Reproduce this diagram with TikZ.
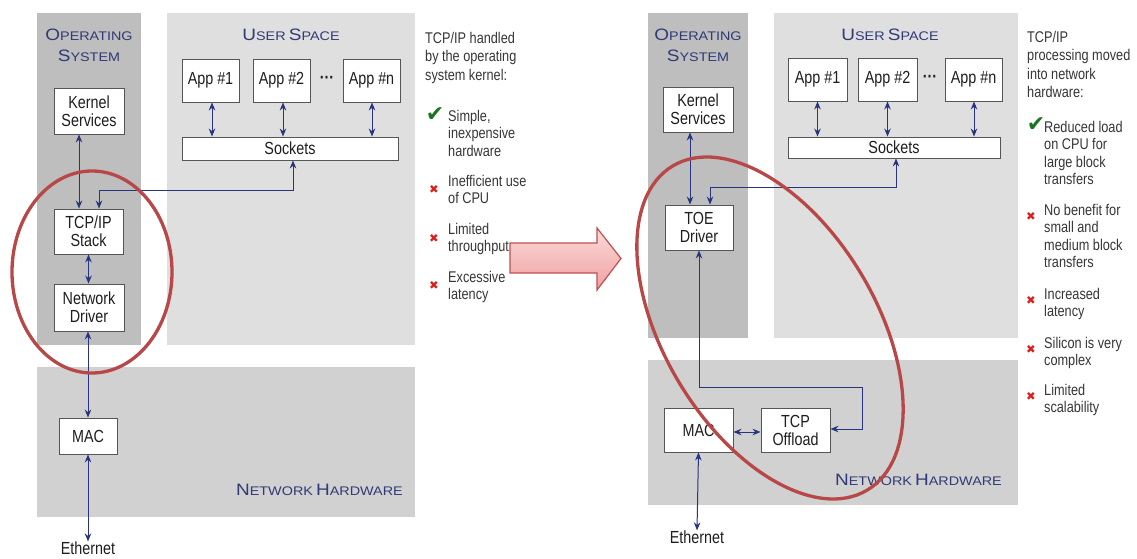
\documentclass[tikz,border=0pt]{standalone}
\usepackage{fontspec}
\setmainfont{Liberation Sans}
\newfontfamily\narrowfont[FakeStretch=0.82]{Liberation Sans}
\newfontfamily\widefont[FakeStretch=1.15]{Liberation Sans}
\newfontfamily\symbolfont{DejaVu Sans}
\usetikzlibrary{arrows.meta}

\definecolor{osgray}{RGB}{190,190,190}
\definecolor{usergray}{RGB}{223,223,223}
\definecolor{hwgray}{RGB}{209,209,209}
\definecolor{linknavy}{RGB}{40,52,125}
\definecolor{headblue}{RGB}{48,58,118}
\definecolor{ringred}{RGB}{184,72,72}
\definecolor{okgreen}{RGB}{30,115,30}
\definecolor{badred}{RGB}{222,30,30}
\definecolor{boxline}{RGB}{85,85,85}
\definecolor{boxtext}{RGB}{30,30,30}
\definecolor{notetext}{RGB}{55,55,55}
\definecolor{arrowedge}{RGB}{190,80,80}
\definecolor{arrowtop}{RGB}{251,218,218}
\definecolor{arrowbottom}{RGB}{240,160,160}

% small-caps look for the region titles
\newcommand\capsword[2]{{\fontsize{16.5}{16.5}\selectfont #1}{\fontsize{12.5}{12.5}\selectfont #2}}
\newcommand\okmark{{\symbolfont\fontsize{22}{22}\selectfont\textcolor{okgreen}{✔}}}
\newcommand\nomark{{\symbolfont\fontsize{11.5}{11.5}\selectfont\textcolor{badred}{✖}}}

\tikzset{
  tipshape/.tip={Stealth[length=8pt,width=6.5pt]},
  box/.style={draw=boxline, line width=0.9pt, fill=white, inner sep=0pt,
    align=center, text=boxtext, font=\narrowfont\fontsize{17.5}{18}\selectfont},
  plaintext/.style={inner sep=0pt, text=boxtext, font=\narrowfont\fontsize{17.5}{18}\selectfont},
  heading/.style={inner sep=0pt, text=headblue, font=\widefont},
  note/.style={align=left, anchor=north west, inner sep=0pt, text=notetext,
    font=\narrowfont\fontsize{15.5}{17.5}\selectfont},
  noteh/.style={note, font=\narrowfont\fontsize{15.5}{18.5}\selectfont},
  tick/.style={inner sep=0pt},
  link/.style={draw=linknavy, line width=1pt, tipshape-tipshape},
  ring/.style={draw=ringred, line width=3.3pt},
}

\begin{document}
\begin{tikzpicture}[x=1pt,y=-1pt]
\useasboundingbox (0,0) rectangle (1137,559);
\fill[white] (0,0) rectangle (1137,559);

% ---------------- kernel-based stack ----------------
\fill[osgray]   (37,13)  rectangle (141,345);
\fill[usergray] (167,13) rectangle (415,345);
\fill[hwgray]   (37,367) rectangle (415,517);

\node[heading] (osL1) at (89,35) {\capsword{O}{PERATING}};
\node[heading] (osL2) at (89,56) {\capsword{S}{YSTEM}};
\node[heading] (usL)  at (291,35) {\capsword{U}{SER} \capsword{S}{PACE}};
\node[heading, anchor=east] (hwL) at (403,490) {\capsword{N}{ETWORK} \capsword{H}{ARDWARE}};

\node[box, minimum width=70pt, minimum height=46pt] (kernL) at (89,111) {Kernel\\Services};
\node[box, minimum width=57pt, minimum height=43pt] (app1L) at (210.5,80.5) {App \#1};
\node[box, minimum width=57pt, minimum height=43pt] (app2L) at (281.5,80.5) {App \#2};
\node[plaintext] (dotsL) at (327,80) {\textbf{···}};
\node[box, minimum width=57pt, minimum height=43pt] (appnL) at (371.5,80.5) {App \#n};
\node[box, minimum width=216pt, minimum height=23pt] (sockL) at (290,148.5) {Sockets};
\node[box, minimum width=69pt, minimum height=45pt] (tcpL) at (88.5,231.5) {TCP/IP\\Stack};
\node[box, minimum width=70pt, minimum height=47pt] (drvL) at (89,307.5) {Network\\Driver};
\node[box, minimum width=58pt, minimum height=36pt] (macL) at (88,436) {MAC};
\node[plaintext] (ethL) at (88,548) {Ethernet};

\draw[link] ([xshift=-10pt]kernL.south) -- ([xshift=-10pt]kernL.south |- tcpL.north);
\draw[link] ([xshift=1.5pt]app1L.south) -- ([xshift=1.5pt]app1L.south |- sockL.north);
\draw[link] ([xshift=1.5pt]app2L.south) -- ([xshift=1.5pt]app2L.south |- sockL.north);
\draw[link] ([xshift=0.5pt]appnL.south) -- ([xshift=0.5pt]appnL.south |- sockL.north);
\draw[link] ([xshift=3pt]sockL.south) -- ++(0,30) -| ([xshift=10.5pt]tcpL.north);
\draw[link] (tcpL.south) -- (tcpL.south |- drvL.north);
\draw[link] (macL.north |- drvL.south) -- (macL.north);
\draw[link] (macL.south) -- (ethL.north);

% advantages and drawbacks
\node[noteh] (hdrL) at (425,32) {TCP/IP handled\\by the operating\\system kernel:};
\node[tick] (okL) at (435,115) {\okmark};
\node[note] (proL) at (448,110) {Simple,\\inexpensive\\hardware};
\node[tick] (noL1) at (434,189) {\nomark};
\node[note] (conL1) at (448,175) {Inefficient use\\of CPU};
\node[tick] (noL2) at (434,238) {\nomark};
\node[note] (conL2) at (448,223) {Limited\\throughput};
\node[tick] (noL3) at (434,285) {\nomark};
\node[note] (conL3) at (448,271) {Excessive\\latency};

% ---------------- transition arrow ----------------
\draw[draw=arrowedge, line width=1.2pt, top color=arrowtop, bottom color=arrowbottom]
  (510,243) -- (597,243) -- (597,228) -- (621,258.5) -- (597,290) -- (597,273) -- (510,273) -- cycle;

% ---------------- offloaded stack ----------------
\fill[osgray]   (648,13)  rectangle (748,338);
\fill[usergray] (774,13)  rectangle (1018,338);
\fill[hwgray]   (648,360) rectangle (1018,505);

\node[heading] (osR1) at (698,35) {\capsword{O}{PERATING}};
\node[heading] (osR2) at (698,56) {\capsword{S}{YSTEM}};
\node[heading] (usR)  at (890,35) {\capsword{U}{SER} \capsword{S}{PACE}};
\node[heading, anchor=east] (hwR) at (1002,480) {\capsword{N}{ETWORK} \capsword{H}{ARDWARE}};

\node[box, minimum width=70pt, minimum height=45pt] (kernR) at (698,109.5) {Kernel\\Services};
\node[box, minimum width=59pt, minimum height=43pt] (app1R) at (817.5,79.5) {App \#1};
\node[box, minimum width=59pt, minimum height=43pt] (app2R) at (887.5,79.5) {App \#2};
\node[plaintext] (dotsR) at (930,79) {\textbf{···}};
\node[box, minimum width=57pt, minimum height=43pt] (appnR) at (973.5,79.5) {App \#n};
\node[box, minimum width=212pt, minimum height=21pt] (sockR) at (894,147.5) {Sockets};
\node[box, minimum width=68pt, minimum height=45pt] (toeR) at (699,227.5) {TOE\\Driver};
\node[box, minimum width=69pt, minimum height=44pt] (macR) at (698.5,430) {MAC};
\node[box, minimum width=69pt, minimum height=44pt] (offR) at (795.5,430) {TCP\\Offload};
\node[plaintext] (ethR) at (697,537) {Ethernet};

\draw[link] ([xshift=-8pt]kernR.south) -- ([xshift=-8pt]kernR.south |- toeR.north);
\draw[link] (app1R.south) -- (app1R.south |- sockR.north);
\draw[link] (app2R.south) -- (app2R.south |- sockR.north);
\draw[link] ([xshift=0.5pt]appnR.south) -- ([xshift=0.5pt]appnR.south |- sockR.north);
\draw[link] ([xshift=2pt]sockR.south) -- ++(0,29) -| ([xshift=11pt]toeR.north);
\draw[link] (toeR.south) -- ++(0,137) -| ([xshift=32pt,yshift=1pt]offR.east) -- ([yshift=1pt]offR.east);
\draw[link] ([yshift=-2pt]macR.east) -- ([yshift=-2pt]offR.west);
\draw[link] (macR.south) -- (ethR.north);

\node[noteh] (hdrR) at (1027,31) {TCP/IP\\processing moved\\into network\\hardware:};
\node[tick] (okR) at (1036,125) {\okmark};
\node[note] (proR) at (1044,121) {Reduced load\\on CPU for\\large block\\transfers};
\node[tick] (noR1) at (1031,216) {\nomark};
\node[note] (conR1) at (1044,204) {No benefit for\\small and\\medium block\\transfers};
\node[tick] (noR2) at (1031,300) {\nomark};
\node[note] (conR2) at (1044,288) {Increased\\latency};
\node[tick] (noR3) at (1031,349) {\nomark};
\node[note] (conR3) at (1044,337) {Silicon is very\\complex};
\node[tick] (noR4) at (1031,396) {\nomark};
\node[note] (conR4) at (1044,384) {Limited\\scalability};

% ---------------- highlight rings ----------------
\draw[ring] (92,272) ellipse [x radius=80pt, y radius=101pt];
\draw[ring, rotate around={-59:(770,328)}] (770,328) ellipse [x radius=189pt, y radius=106pt];
\end{tikzpicture}
\end{document}
